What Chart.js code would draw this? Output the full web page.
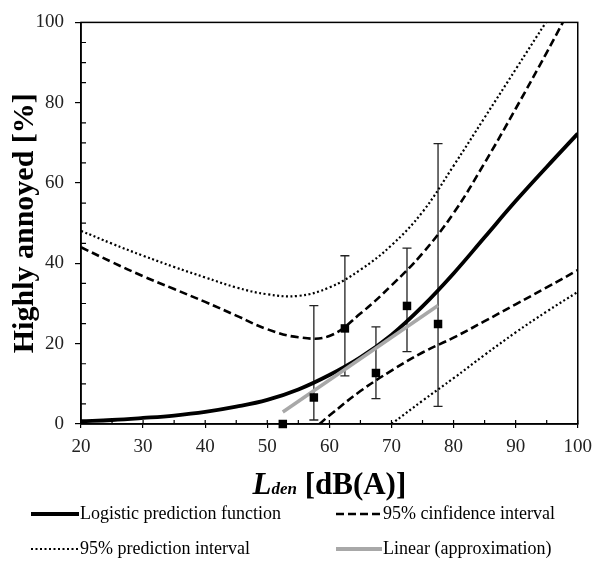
<!DOCTYPE html>
<html>
<head>
<meta charset="utf-8">
<script src="https://cdn.jsdelivr.net/npm/chart.js@4.4.0/dist/chart.umd.min.js"></script>
<style>
  body { margin: 0; background: #fff; }
  #wrap { position: relative; width: 600px; height: 564px; }
  .leg { position: absolute; display: flex; align-items: center; font: 18px "Liberation Serif", serif; color: #000; white-space: nowrap; }
  .leg svg { margin-right: 1px; }
</style>
</head>
<body>
<div id="wrap">
  <canvas id="chart" width="600" height="564"></canvas>
  <div class="leg" style="left:31px; top:503px;">
    <svg width="48" height="8"><line x1="0" y1="4" x2="48" y2="4" stroke="#000" stroke-width="4"/></svg>Logistic prediction function
  </div>
  <div class="leg" style="left:336px; top:503px;">
    <svg width="46" height="8"><line x1="0" y1="4" x2="46" y2="4" stroke="#000" stroke-width="2.5" stroke-dasharray="8 4"/></svg>95% cinfidence interval
  </div>
  <div class="leg" style="left:31px; top:538px;">
    <svg width="48" height="8"><line x1="0" y1="4" x2="48" y2="4" stroke="#000" stroke-width="2" stroke-dasharray="2 2.5"/></svg>95% prediction interval
  </div>
  <div class="leg" style="left:336px; top:538px;">
    <svg width="46" height="8"><line x1="0" y1="4" x2="46" y2="4" stroke="#a8a8a8" stroke-width="4"/></svg>Linear (approximation)
  </div>
</div>
<script>
// axis ticks
const xTicks = [20, 30, 40, 50, 60, 70, 80, 90, 100];
const xMinorTicks = [25, 35, 45, 55, 65, 75, 85, 95];
const yTicks = [0, 20, 40, 60, 80, 100];
const yMinorTicks = [5, 10, 15, 25, 30, 35, 45, 50, 55, 65, 70, 75, 85, 90, 95];

// logistic prediction function
const logisticX = [20, 25, 30, 35, 40, 45, 50, 55, 60, 65, 70, 75, 80, 85, 90, 95, 100];
const logisticY = [0.7, 1.0, 1.5, 2.1, 3.0, 4.3, 6.0, 8.6, 12.2, 16.6, 22.2, 29.3, 37.5, 46.5, 55.5, 64.0, 72.3];

// 95% confidence interval
const ciUpperX = [20, 25, 30, 35, 40, 45, 50, 55, 60, 65, 70, 75, 80, 85, 90, 95, 100];
const ciUpperY = [44.0, 40.3, 36.8, 33.6, 30.4, 27.0, 23.6, 21.6, 21.9, 27.5, 34.5, 42.5, 52.5, 65.0, 78.5, 92.5, 107];
const ciLowerX = [58.4, 60, 65, 70, 75, 80, 85, 90, 95, 100];
const ciLowerY = [0, 2.1, 8.2, 13.3, 17.8, 21.5, 25.6, 29.8, 34.0, 38.3];

// 95% prediction interval
const piUpperX = [20, 25, 30, 35, 40, 45, 50, 55, 60, 65, 70, 75, 80, 85, 90, 95, 100];
const piUpperY = [48.1, 44.9, 41.9, 39.1, 36.5, 34.0, 32.3, 31.9, 34.0, 38.4, 44.5, 52.8, 64.3, 76.3, 88.3, 100.3, 112];
const piLowerX = [70, 75, 80, 85, 90, 95, 100];
const piLowerY = [0, 5.8, 11.4, 17.2, 22.8, 28.0, 32.9];

// linear approximation
const linearX = [52.5, 77.5];
const linearY = [3.0, 29.5];

// observed values with error bars
const obsX = [52.5, 57.5, 62.5, 67.5, 72.5, 77.5];
const obsY = [0, 6.6, 23.8, 12.7, 29.4, 24.9];
const obsLow = [null, 1.0, 12.0, 6.3, 18.0, 4.4];
const obsHigh = [null, 29.5, 41.9, 24.2, 43.8, 69.8];

const pts = (xs, ys) => xs.map((x, i) => ({ x: x, y: ys[i] }));
const SERIF = '"Liberation Serif", "Times New Roman", serif';

const errorBars = {
  id: 'errorBars',
  beforeDatasetsDraw(chart) {
    const { ctx, scales: { x, y } } = chart;
    ctx.save();
    ctx.strokeStyle = '#222';
    ctx.lineWidth = 1.3;
    ctx.beginPath();
    obsX.forEach((v, i) => {
      if (obsLow[i] === null) return;
      const px = x.getPixelForValue(v);
      const lo = y.getPixelForValue(obsLow[i]);
      const hi = y.getPixelForValue(obsHigh[i]);
      ctx.moveTo(px, lo); ctx.lineTo(px, hi);
      ctx.moveTo(px - 4.5, lo); ctx.lineTo(px + 4.5, lo);
      ctx.moveTo(px - 4.5, hi); ctx.lineTo(px + 4.5, hi);
    });
    ctx.stroke();
    ctx.restore();
  }
};

const frame = {
  id: 'frame',
  afterDraw(chart) {
    const { ctx, chartArea: a, scales: { x, y } } = chart;
    ctx.save();
    ctx.strokeStyle = '#000';
    ctx.lineWidth = 1.5;
    ctx.strokeRect(a.left, a.top, a.right - a.left, a.bottom - a.top);
    ctx.lineWidth = 1.2;
    ctx.beginPath();
    xTicks.concat(xMinorTicks).forEach(v => {
      const px = x.getPixelForValue(v);
      ctx.moveTo(px, a.bottom); ctx.lineTo(px, a.bottom - 4);
    });
    yMinorTicks.forEach(v => {
      const py = y.getPixelForValue(v);
      ctx.moveTo(a.left, py); ctx.lineTo(a.left + 5, py);
    });
    ctx.stroke();

    // x title: L with subscript "den", then [dB(A)]
    const big = 'bold italic 31px ' + SERIF;
    const sub = 'bold italic 17px ' + SERIF;
    const rest = 'bold 31px ' + SERIF;
    ctx.fillStyle = '#000';
    ctx.textBaseline = 'alphabetic';
    ctx.font = big; const w1 = ctx.measureText('L').width;
    ctx.font = sub; const w2 = ctx.measureText('den').width;
    ctx.font = rest; const w3 = ctx.measureText(' [dB(A)]').width;
    let tx = (a.left + a.right) / 2 - (w1 + w2 + w3) / 2;
    const ty = 494;
    ctx.font = big; ctx.fillText('L', tx, ty); tx += w1;
    ctx.font = sub; ctx.fillText('den', tx, ty); tx += w2;
    ctx.font = rest; ctx.fillText(' [dB(A)]', tx, ty);
    ctx.restore();
  }
};

const lineSet = (label, xs, ys, extra) => Object.assign({
  label: label,
  data: pts(xs, ys),
  showLine: true,
  borderColor: '#000',
  tension: 0.4,
  pointRadius: 0
}, extra);

new Chart(document.getElementById('chart').getContext('2d'), {
  type: 'scatter',
  data: {
    datasets: [
      {
        label: 'Observed',
        data: pts(obsX, obsY),
        pointStyle: 'rect',
        pointRadius: 6,
        pointBackgroundColor: '#000',
        pointBorderWidth: 0,
        clip: false
      },
      lineSet('Linear (approximation)', linearX, linearY, { borderColor: '#a8a8a8', borderWidth: 3.5, tension: 0 }),
      lineSet('Logistic prediction function', logisticX, logisticY, { borderWidth: 3.8 }),
      lineSet('95% cinfidence interval', ciUpperX, ciUpperY, { borderWidth: 2.6, borderDash: [8, 4] }),
      lineSet('95% cinfidence interval (lower)', ciLowerX, ciLowerY, { borderWidth: 2.6, borderDash: [8, 4] }),
      lineSet('95% prediction interval', piUpperX, piUpperY, { borderWidth: 2.2, borderDash: [2, 2.5] }),
      lineSet('95% prediction interval (lower)', piLowerX, piLowerY, { borderWidth: 2.2, borderDash: [2, 2.5] })
    ]
  },
  options: {
    responsive: false,
    animation: false,
    layout: { padding: { top: 17, right: 18, left: 0, bottom: 0 } },
    plugins: {
      legend: { display: false },
      tooltip: { enabled: false }
    },
    scales: {
      x: {
        type: 'linear',
        min: 20,
        max: 100,
        afterBuildTicks: s => { s.ticks = xTicks.map(v => ({ value: v })); },
        afterFit: s => { s.height = 140; },
        grid: { drawOnChartArea: false, color: '#000', lineWidth: 1.2, tickLength: 4 },
        border: { color: '#000', width: 1.5 },
        ticks: { color: '#222', padding: 8, maxRotation: 0, font: { family: SERIF, size: 19 } }
      },
      y: {
        type: 'linear',
        min: 0,
        max: 100,
        afterBuildTicks: s => { s.ticks = yTicks.map(v => ({ value: v })); },
        afterFit: s => { s.width = 81; },
        grid: { drawOnChartArea: false, color: '#000', lineWidth: 1.2, tickLength: 6 },
        border: { color: '#000', width: 1.5 },
        ticks: { color: '#222', padding: 11, font: { family: SERIF, size: 19 } },
        title: {
          display: true,
          text: 'Highly annoyed [%]',
          color: '#000',
          padding: { top: 7, bottom: 0 },
          font: { family: SERIF, size: 30, weight: 'bold' }
        }
      }
    }
  },
  plugins: [errorBars, frame]
});
</script>
</body>
</html>
